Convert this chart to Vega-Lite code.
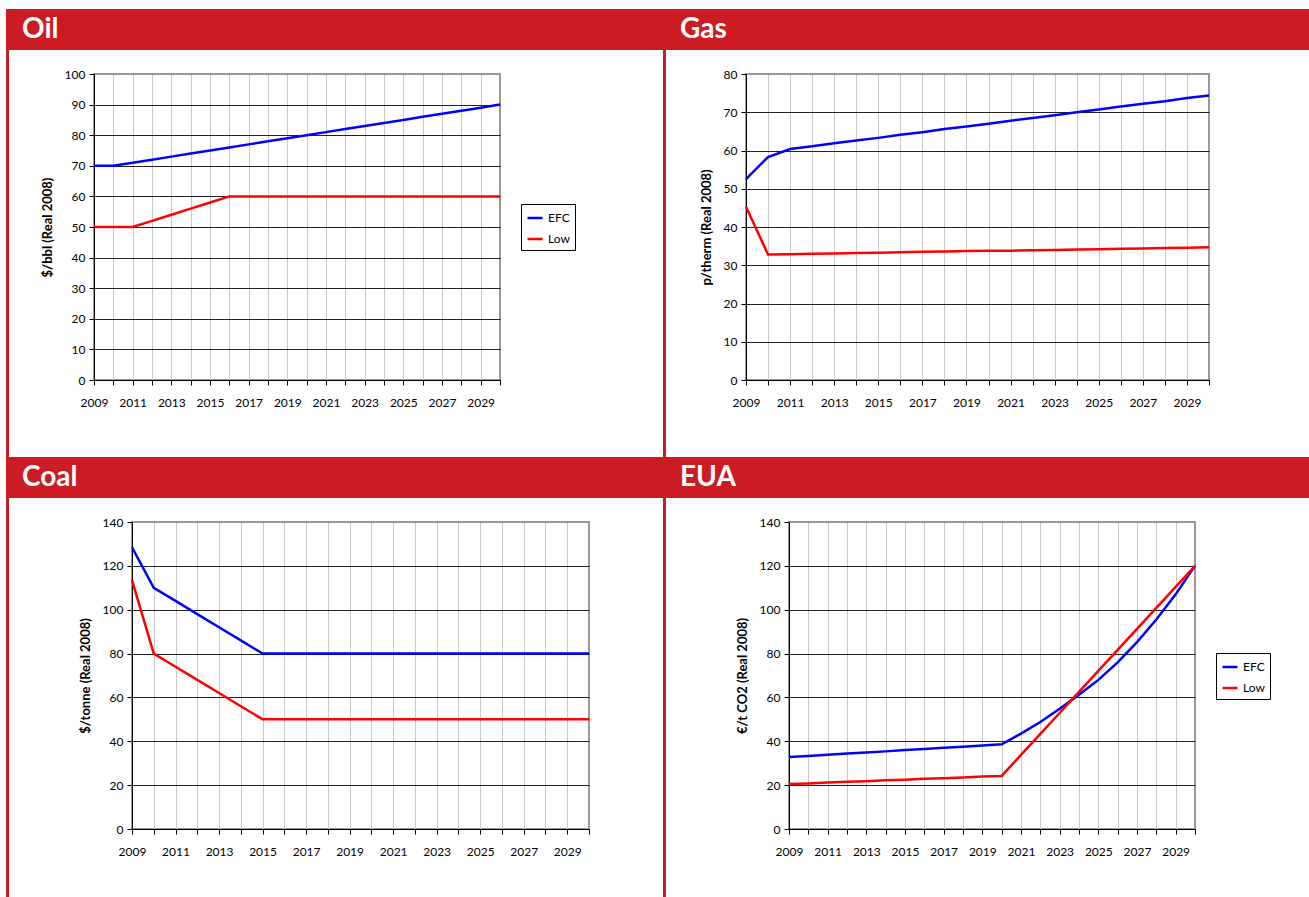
{
  "$schema": "https://vega.github.io/schema/vega-lite/v6.json",
  "background": "white",
  "padding": {"left": 6, "top": 9, "right": 0, "bottom": 0},
  "spacing": 0,
  "resolve": {"scale": {"color": "independent"}, "legend": {"color": "independent"}},
  "hconcat": [
    {"data": {"values": []}, "mark": "point", "width": 3, "height": 888, "view": {"fill": "#CC1B22", "stroke": null}},
    {
      "spacing": 0,
      "resolve": {"scale": {"color": "independent"}, "legend": {"color": "independent"}},
      "vconcat": [
        {
          "spacing": 17,
          "resolve": {"scale": {"color": "independent"}, "legend": {"color": "independent"}},
          "vconcat": [
            {"data": {"values": [{"label": "Oil"}]}, "width": 654, "height": 41, "view": {"fill": "#CC1B22", "stroke": null},
             "mark": {"type": "text", "align": "left", "baseline": "middle", "dx": 13, "dy": 0, "color": "white", "font": "Lato", "fontSize": 28, "fontWeight": "bold"},
             "encoding": {"text": {"field": "label"}, "x": {"datum": 0, "type": "quantitative", "scale": {"domain": [0, 1]}, "axis": null}}},
            {
              "spacing": 0, "bounds": "flush",
              "resolve": {"scale": {"color": "independent"}, "legend": {"color": "independent"}},
              "hconcat": [
                {"data": {"values": []}, "mark": "point", "width": 85, "height": 383},
                {
                  "width": 406, "height": 306,
                  "view": {"stroke": "#999999", "strokeWidth": 2},
                  "data": {"values": [
                    {"year": 2009, "series": "EFC", "value": 70}, {"year": 2010, "series": "EFC", "value": 70}, {"year": 2011, "series": "EFC", "value": 71}, {"year": 2012, "series": "EFC", "value": 72}, {"year": 2013, "series": "EFC", "value": 73}, {"year": 2014, "series": "EFC", "value": 74}, {"year": 2015, "series": "EFC", "value": 75}, {"year": 2016, "series": "EFC", "value": 76}, {"year": 2017, "series": "EFC", "value": 77}, {"year": 2018, "series": "EFC", "value": 78}, {"year": 2019, "series": "EFC", "value": 79}, {"year": 2020, "series": "EFC", "value": 80}, {"year": 2021, "series": "EFC", "value": 81}, {"year": 2022, "series": "EFC", "value": 82}, {"year": 2023, "series": "EFC", "value": 83}, {"year": 2024, "series": "EFC", "value": 84}, {"year": 2025, "series": "EFC", "value": 85}, {"year": 2026, "series": "EFC", "value": 86}, {"year": 2027, "series": "EFC", "value": 87}, {"year": 2028, "series": "EFC", "value": 88}, {"year": 2029, "series": "EFC", "value": 89}, {"year": 2030, "series": "EFC", "value": 90},
                    {"year": 2009, "series": "Low", "value": 50}, {"year": 2010, "series": "Low", "value": 50}, {"year": 2011, "series": "Low", "value": 50}, {"year": 2012, "series": "Low", "value": 52}, {"year": 2013, "series": "Low", "value": 54}, {"year": 2014, "series": "Low", "value": 56}, {"year": 2015, "series": "Low", "value": 58}, {"year": 2016, "series": "Low", "value": 60}, {"year": 2017, "series": "Low", "value": 60}, {"year": 2018, "series": "Low", "value": 60}, {"year": 2019, "series": "Low", "value": 60}, {"year": 2020, "series": "Low", "value": 60}, {"year": 2021, "series": "Low", "value": 60}, {"year": 2022, "series": "Low", "value": 60}, {"year": 2023, "series": "Low", "value": 60}, {"year": 2024, "series": "Low", "value": 60}, {"year": 2025, "series": "Low", "value": 60}, {"year": 2026, "series": "Low", "value": 60}, {"year": 2027, "series": "Low", "value": 60}, {"year": 2028, "series": "Low", "value": 60}, {"year": 2029, "series": "Low", "value": 60}, {"year": 2030, "series": "Low", "value": 60}
                  ]},
                  "mark": {"type": "line", "strokeWidth": 2.5},
                  "encoding": {
                    "x": {"field": "year", "type": "quantitative", "scale": {"domain": [2009, 2030], "nice": false, "zero": false},
                          "axis": {"title": null, "values": [2009,2010,2011,2012,2013,2014,2015,2016,2017,2018,2019,2020,2021,2022,2023,2024,2025,2026,2027,2028,2029,2030], "labelExpr": "datum.value % 2 == 1 ? '' + datum.value : ''",
                                   "gridColor": {"condition": {"test": "datum.value == 2030", "value": "#999999"}, "value": "#c8c8c8"}}},
                    "y": {"field": "value", "type": "quantitative", "scale": {"domain": [0, 100], "nice": false},
                          "axis": {"title": "$/bbl (Real 2008)", "values": [0,10,20,30,40,50,60,70,80,90,100],
                                   "gridColor": {"condition": {"test": "datum.value == 100", "value": "#999999"}, "value": "#222222"}}},
                    "color": {"field": "series", "type": "nominal", "scale": {"domain": ["EFC", "Low"], "range": ["#0000ff", "#ff0000"]},
                              "legend": {"title": null, "orient": "none", "legendX": 427, "legendY": 130}}
                  }
                }
              ]
            }
          ]
        },
        {
          "spacing": 17,
          "resolve": {"scale": {"color": "independent"}, "legend": {"color": "independent"}},
          "vconcat": [
            {"data": {"values": [{"label": "Coal"}]}, "width": 654, "height": 41, "view": {"fill": "#CC1B22", "stroke": null},
             "mark": {"type": "text", "align": "left", "baseline": "middle", "dx": 13, "dy": 0, "color": "white", "font": "Lato", "fontSize": 28, "fontWeight": "bold"},
             "encoding": {"text": {"field": "label"}, "x": {"datum": 0, "type": "quantitative", "scale": {"domain": [0, 1]}, "axis": null}}},
            {
              "spacing": 0, "bounds": "flush",
              "resolve": {"scale": {"color": "independent"}, "legend": {"color": "independent"}},
              "hconcat": [
                {"data": {"values": []}, "mark": "point", "width": 123, "height": 377},
                {
                  "width": 457, "height": 307,
                  "view": {"stroke": "#999999", "strokeWidth": 2},
                  "data": {"values": [
                    {"year": 2009, "series": "EFC", "value": 128.5}, {"year": 2010, "series": "EFC", "value": 110}, {"year": 2011, "series": "EFC", "value": 104}, {"year": 2012, "series": "EFC", "value": 98}, {"year": 2013, "series": "EFC", "value": 92}, {"year": 2014, "series": "EFC", "value": 86}, {"year": 2015, "series": "EFC", "value": 80}, {"year": 2016, "series": "EFC", "value": 80}, {"year": 2017, "series": "EFC", "value": 80}, {"year": 2018, "series": "EFC", "value": 80}, {"year": 2019, "series": "EFC", "value": 80}, {"year": 2020, "series": "EFC", "value": 80}, {"year": 2021, "series": "EFC", "value": 80}, {"year": 2022, "series": "EFC", "value": 80}, {"year": 2023, "series": "EFC", "value": 80}, {"year": 2024, "series": "EFC", "value": 80}, {"year": 2025, "series": "EFC", "value": 80}, {"year": 2026, "series": "EFC", "value": 80}, {"year": 2027, "series": "EFC", "value": 80}, {"year": 2028, "series": "EFC", "value": 80}, {"year": 2029, "series": "EFC", "value": 80}, {"year": 2030, "series": "EFC", "value": 80},
                    {"year": 2009, "series": "Low", "value": 113.5}, {"year": 2010, "series": "Low", "value": 80}, {"year": 2011, "series": "Low", "value": 74}, {"year": 2012, "series": "Low", "value": 68}, {"year": 2013, "series": "Low", "value": 62}, {"year": 2014, "series": "Low", "value": 56}, {"year": 2015, "series": "Low", "value": 50}, {"year": 2016, "series": "Low", "value": 50}, {"year": 2017, "series": "Low", "value": 50}, {"year": 2018, "series": "Low", "value": 50}, {"year": 2019, "series": "Low", "value": 50}, {"year": 2020, "series": "Low", "value": 50}, {"year": 2021, "series": "Low", "value": 50}, {"year": 2022, "series": "Low", "value": 50}, {"year": 2023, "series": "Low", "value": 50}, {"year": 2024, "series": "Low", "value": 50}, {"year": 2025, "series": "Low", "value": 50}, {"year": 2026, "series": "Low", "value": 50}, {"year": 2027, "series": "Low", "value": 50}, {"year": 2028, "series": "Low", "value": 50}, {"year": 2029, "series": "Low", "value": 50}, {"year": 2030, "series": "Low", "value": 50}
                  ]},
                  "mark": {"type": "line", "strokeWidth": 2.5},
                  "encoding": {
                    "x": {"field": "year", "type": "quantitative", "scale": {"domain": [2009, 2030], "nice": false, "zero": false},
                          "axis": {"title": null, "values": [2009,2010,2011,2012,2013,2014,2015,2016,2017,2018,2019,2020,2021,2022,2023,2024,2025,2026,2027,2028,2029,2030], "labelExpr": "datum.value % 2 == 1 ? '' + datum.value : ''",
                                   "gridColor": {"condition": {"test": "datum.value == 2030", "value": "#999999"}, "value": "#c8c8c8"}}},
                    "y": {"field": "value", "type": "quantitative", "scale": {"domain": [0, 140], "nice": false},
                          "axis": {"title": "$/tonne (Real 2008)", "values": [0,20,40,60,80,100,120,140],
                                   "gridColor": {"condition": {"test": "datum.value == 140", "value": "#999999"}, "value": "#222222"}}},
                    "color": {"field": "series", "type": "nominal", "scale": {"domain": ["EFC", "Low"], "range": ["#0000ff", "#ff0000"]}, "legend": null}
                  }
                }
              ]
            }
          ]
        }
      ]
    },
    {"data": {"values": []}, "mark": "point", "width": 3, "height": 888, "view": {"fill": "#CC1B22", "stroke": null}},
    {
      "spacing": 0,
      "resolve": {"scale": {"color": "independent"}, "legend": {"color": "independent"}},
      "vconcat": [
        {
          "spacing": 17,
          "resolve": {"scale": {"color": "independent"}, "legend": {"color": "independent"}},
          "vconcat": [
            {"data": {"values": [{"label": "Gas"}]}, "width": 643, "height": 41, "view": {"fill": "#CC1B22", "stroke": null},
             "mark": {"type": "text", "align": "left", "baseline": "middle", "dx": 14, "dy": 0, "color": "white", "font": "Lato", "fontSize": 28, "fontWeight": "bold"},
             "encoding": {"text": {"field": "label"}, "x": {"datum": 0, "type": "quantitative", "scale": {"domain": [0, 1]}, "axis": null}}},
            {
              "spacing": 0, "bounds": "flush",
              "resolve": {"scale": {"color": "independent"}, "legend": {"color": "independent"}},
              "hconcat": [
                {"data": {"values": []}, "mark": "point", "width": 80, "height": 383},
                {
                  "width": 463, "height": 306,
                  "view": {"stroke": "#999999", "strokeWidth": 2},
                  "data": {"values": [
                    {"year": 2009, "series": "EFC", "value": 52.5}, {"year": 2010, "series": "EFC", "value": 58.3}, {"year": 2011, "series": "EFC", "value": 60.4}, {"year": 2012, "series": "EFC", "value": 61.1}, {"year": 2013, "series": "EFC", "value": 61.9}, {"year": 2014, "series": "EFC", "value": 62.6}, {"year": 2015, "series": "EFC", "value": 63.3}, {"year": 2016, "series": "EFC", "value": 64.1}, {"year": 2017, "series": "EFC", "value": 64.8}, {"year": 2018, "series": "EFC", "value": 65.6}, {"year": 2019, "series": "EFC", "value": 66.3}, {"year": 2020, "series": "EFC", "value": 67.0}, {"year": 2021, "series": "EFC", "value": 67.8}, {"year": 2022, "series": "EFC", "value": 68.5}, {"year": 2023, "series": "EFC", "value": 69.2}, {"year": 2024, "series": "EFC", "value": 70.0}, {"year": 2025, "series": "EFC", "value": 70.7}, {"year": 2026, "series": "EFC", "value": 71.5}, {"year": 2027, "series": "EFC", "value": 72.2}, {"year": 2028, "series": "EFC", "value": 72.9}, {"year": 2029, "series": "EFC", "value": 73.7}, {"year": 2030, "series": "EFC", "value": 74.4},
                    {"year": 2009, "series": "Low", "value": 45.3}, {"year": 2010, "series": "Low", "value": 32.8}, {"year": 2011, "series": "Low", "value": 32.9}, {"year": 2012, "series": "Low", "value": 33.0}, {"year": 2013, "series": "Low", "value": 33.1}, {"year": 2014, "series": "Low", "value": 33.2}, {"year": 2015, "series": "Low", "value": 33.3}, {"year": 2016, "series": "Low", "value": 33.4}, {"year": 2017, "series": "Low", "value": 33.5}, {"year": 2018, "series": "Low", "value": 33.6}, {"year": 2019, "series": "Low", "value": 33.7}, {"year": 2020, "series": "Low", "value": 33.8}, {"year": 2021, "series": "Low", "value": 33.8}, {"year": 2022, "series": "Low", "value": 33.9}, {"year": 2023, "series": "Low", "value": 34.0}, {"year": 2024, "series": "Low", "value": 34.1}, {"year": 2025, "series": "Low", "value": 34.2}, {"year": 2026, "series": "Low", "value": 34.3}, {"year": 2027, "series": "Low", "value": 34.4}, {"year": 2028, "series": "Low", "value": 34.5}, {"year": 2029, "series": "Low", "value": 34.6}, {"year": 2030, "series": "Low", "value": 34.7}
                  ]},
                  "mark": {"type": "line", "strokeWidth": 2.5},
                  "encoding": {
                    "x": {"field": "year", "type": "quantitative", "scale": {"domain": [2009, 2030], "nice": false, "zero": false},
                          "axis": {"title": null, "values": [2009,2010,2011,2012,2013,2014,2015,2016,2017,2018,2019,2020,2021,2022,2023,2024,2025,2026,2027,2028,2029,2030], "labelExpr": "datum.value % 2 == 1 ? '' + datum.value : ''",
                                   "gridColor": {"condition": {"test": "datum.value == 2030", "value": "#999999"}, "value": "#c8c8c8"}}},
                    "y": {"field": "value", "type": "quantitative", "scale": {"domain": [0, 80], "nice": false},
                          "axis": {"title": "p/therm (Real 2008)", "values": [0,10,20,30,40,50,60,70,80],
                                   "gridColor": {"condition": {"test": "datum.value == 80", "value": "#999999"}, "value": "#222222"}}},
                    "color": {"field": "series", "type": "nominal", "scale": {"domain": ["EFC", "Low"], "range": ["#0000ff", "#ff0000"]}, "legend": null}
                  }
                }
              ]
            }
          ]
        },
        {
          "spacing": 17,
          "resolve": {"scale": {"color": "independent"}, "legend": {"color": "independent"}},
          "vconcat": [
            {"data": {"values": [{"label": "EUA"}]}, "width": 643, "height": 41, "view": {"fill": "#CC1B22", "stroke": null},
             "mark": {"type": "text", "align": "left", "baseline": "middle", "dx": 14, "dy": 0, "color": "white", "font": "Lato", "fontSize": 28, "fontWeight": "bold"},
             "encoding": {"text": {"field": "label"}, "x": {"datum": 0, "type": "quantitative", "scale": {"domain": [0, 1]}, "axis": null}}},
            {
              "spacing": 0, "bounds": "flush",
              "resolve": {"scale": {"color": "independent"}, "legend": {"color": "independent"}},
              "hconcat": [
                {"data": {"values": []}, "mark": "point", "width": 123, "height": 377},
                {
                  "width": 406, "height": 307,
                  "view": {"stroke": "#999999", "strokeWidth": 2},
                  "data": {"values": [
                    {"year": 2009, "series": "EFC", "value": 32.8}, {"year": 2010, "series": "EFC", "value": 33.3}, {"year": 2011, "series": "EFC", "value": 33.9}, {"year": 2012, "series": "EFC", "value": 34.4}, {"year": 2013, "series": "EFC", "value": 34.9}, {"year": 2014, "series": "EFC", "value": 35.4}, {"year": 2015, "series": "EFC", "value": 36.0}, {"year": 2016, "series": "EFC", "value": 36.5}, {"year": 2017, "series": "EFC", "value": 37.0}, {"year": 2018, "series": "EFC", "value": 37.5}, {"year": 2019, "series": "EFC", "value": 38.1}, {"year": 2020, "series": "EFC", "value": 38.6}, {"year": 2021, "series": "EFC", "value": 43.5}, {"year": 2022, "series": "EFC", "value": 48.8}, {"year": 2023, "series": "EFC", "value": 54.8}, {"year": 2024, "series": "EFC", "value": 61.2}, {"year": 2025, "series": "EFC", "value": 68.0}, {"year": 2026, "series": "EFC", "value": 76.0}, {"year": 2027, "series": "EFC", "value": 85.2}, {"year": 2028, "series": "EFC", "value": 95.5}, {"year": 2029, "series": "EFC", "value": 107.0}, {"year": 2030, "series": "EFC", "value": 120.0},
                    {"year": 2009, "series": "Low", "value": 20.5}, {"year": 2010, "series": "Low", "value": 20.8}, {"year": 2011, "series": "Low", "value": 21.2}, {"year": 2012, "series": "Low", "value": 21.5}, {"year": 2013, "series": "Low", "value": 21.8}, {"year": 2014, "series": "Low", "value": 22.2}, {"year": 2015, "series": "Low", "value": 22.5}, {"year": 2016, "series": "Low", "value": 22.9}, {"year": 2017, "series": "Low", "value": 23.2}, {"year": 2018, "series": "Low", "value": 23.5}, {"year": 2019, "series": "Low", "value": 23.9}, {"year": 2020, "series": "Low", "value": 24.2}, {"year": 2021, "series": "Low", "value": 33.8}, {"year": 2022, "series": "Low", "value": 43.4}, {"year": 2023, "series": "Low", "value": 52.9}, {"year": 2024, "series": "Low", "value": 62.5}, {"year": 2025, "series": "Low", "value": 72.1}, {"year": 2026, "series": "Low", "value": 81.7}, {"year": 2027, "series": "Low", "value": 91.3}, {"year": 2028, "series": "Low", "value": 100.8}, {"year": 2029, "series": "Low", "value": 110.4}, {"year": 2030, "series": "Low", "value": 120.0}
                  ]},
                  "mark": {"type": "line", "strokeWidth": 2.5},
                  "encoding": {
                    "x": {"field": "year", "type": "quantitative", "scale": {"domain": [2009, 2030], "nice": false, "zero": false},
                          "axis": {"title": null, "values": [2009,2010,2011,2012,2013,2014,2015,2016,2017,2018,2019,2020,2021,2022,2023,2024,2025,2026,2027,2028,2029,2030], "labelExpr": "datum.value % 2 == 1 ? '' + datum.value : ''",
                                   "gridColor": {"condition": {"test": "datum.value == 2030", "value": "#999999"}, "value": "#c8c8c8"}}},
                    "y": {"field": "value", "type": "quantitative", "scale": {"domain": [0, 140], "nice": false},
                          "axis": {"title": "€/t CO2 (Real 2008)", "values": [0,20,40,60,80,100,120,140],
                                   "gridColor": {"condition": {"test": "datum.value == 140", "value": "#999999"}, "value": "#222222"}}},
                    "color": {"field": "series", "type": "nominal", "scale": {"domain": ["EFC", "Low"], "range": ["#0000ff", "#ff0000"]},
                              "legend": {"title": null, "orient": "none", "legendX": 427, "legendY": 131}}
                  }
                }
              ]
            }
          ]
        }
      ]
    }
  ],
  "config": {
    "view": {"stroke": null},
    "font": "Lato",
    "axis": {"labelFont": "Lato", "labelFontSize": 12, "labelColor": "#000000", "titleFont": "Lato", "titleFontSize": 13, "titleFontWeight": "bold", "titleColor": "#000000", "domainColor": "#000000", "domainWidth": 1, "tickColor": "#000000", "tickSize": 5, "tickWidth": 1, "gridWidth": 1},
    "axisX": {"labelPadding": 12, "labelFlush": false, "labelOverlap": false},
    "axisY": {"labelPadding": 4, "titlePadding": 10, "labelOverlap": false},
    "legend": {"fillColor": "white", "strokeColor": "#000000", "strokeWidth": 1, "padding": 5, "symbolType": "stroke", "symbolSize": 225, "symbolStrokeWidth": 2.5, "labelFont": "Lato", "labelFontSize": 12, "labelColor": "#000000", "rowPadding": 6, "labelOffset": 4}
  }
}
